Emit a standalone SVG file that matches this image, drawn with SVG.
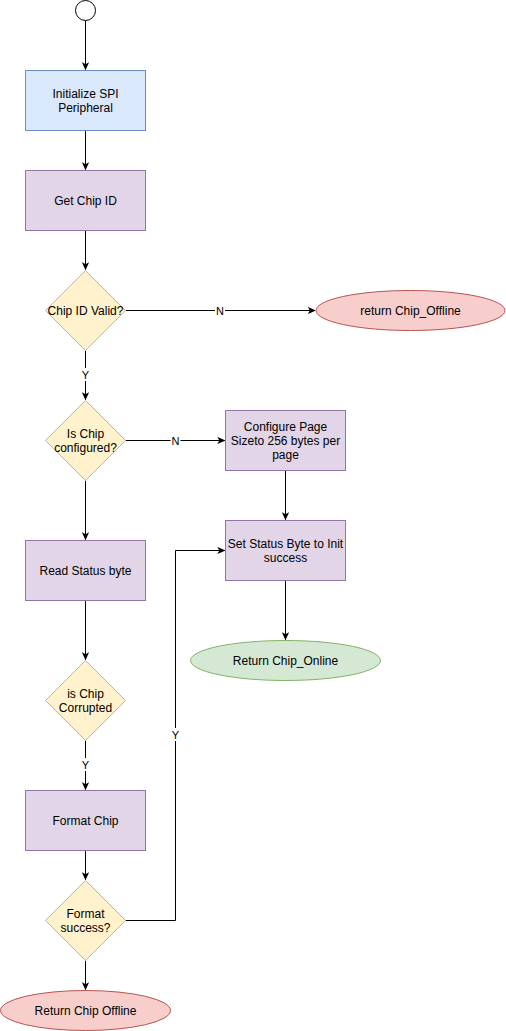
<svg xmlns="http://www.w3.org/2000/svg" width="506" height="1031" viewBox="0 0 506 1031">
<defs>
<marker id="arr" viewBox="0 0 10 10" refX="9" refY="5" markerWidth="8" markerHeight="8" markerUnits="userSpaceOnUse" orient="auto">
<path d="M0,0.5 L10,5 L0,9.5 L2.5,5 Z" fill="#000"/>
</marker>
<style>
text{font-family:"Liberation Sans",Arial,sans-serif;font-size:12px;fill:#000;text-anchor:middle}
.lbl{font-size:11px}
.edge{fill:none;stroke:#000;stroke-width:1;marker-end:url(#arr)}
.blue{fill:#dae8fc;stroke:#6c8ebf}
.purple{fill:#e1d5e7;stroke:#9673a6}
.yellow{fill:#fff2cc;stroke:#d6b656}
.red{fill:#f8cecc;stroke:#b85450}
.green{fill:#d5e8d4;stroke:#82b366}
.lblbg{fill:#fff}
</style>
</defs>
<rect width="506" height="1031" fill="#fff"/>
<g id="connectors">
<path class="edge" d="M85.5,20.5 V69.5"/>
<path class="edge" d="M85.5,130.5 V169.5"/>
<path class="edge" d="M85.5,230.5 V269.5"/>
<path class="edge" d="M125.5,310.5 H315"/>
<path class="edge" d="M85.5,350.5 V399.5"/>
<path class="edge" d="M125.5,440.5 H224.5"/>
<path class="edge" d="M285.5,470.5 V519.5"/>
<path class="edge" d="M85.5,480.5 V539.5"/>
<path class="edge" d="M285.5,580.5 V639.5"/>
<path class="edge" d="M85.5,600.5 V659.5"/>
<path class="edge" d="M85.5,740.5 V789.5"/>
<path class="edge" d="M85.5,850.5 V879.5"/>
<path class="edge" d="M125.5,920.5 H175.5 V550.5 H224.5"/>
<path class="edge" d="M85.5,960.5 V989.5"/>
<rect class="lblbg" x="215" y="304" width="10" height="13"/>
<text class="lbl" x="220" y="314.5">N</text>
<rect class="lblbg" x="80" y="368" width="11" height="13"/>
<text class="lbl" x="85.5" y="378.5">Y</text>
<rect class="lblbg" x="170.5" y="434" width="10" height="13"/>
<text class="lbl" x="175.5" y="444.5">N</text>
<rect class="lblbg" x="80" y="758" width="11" height="13"/>
<text class="lbl" x="85.5" y="768.5">Y</text>
<rect class="lblbg" x="170" y="728" width="11" height="13"/>
<text class="lbl" x="175.5" y="738.5">Y</text>
</g>
<g id="start"><circle cx="85.5" cy="10.5" r="10" fill="#fff" stroke="#000"/></g>
<g id="init-spi"><rect class="blue" x="25.5" y="70.5" width="120" height="60"/><text x="85.5" y="98">Initialize SPI</text><text x="85.5" y="112">Peripheral</text></g>
<g id="get-chip-id"><rect class="purple" x="25.5" y="170.5" width="120" height="60"/><text x="85.5" y="205">Get Chip ID</text></g>
<g id="chip-id-valid"><path class="yellow" d="M85.5,270.5 L125.5,310.5 L85.5,350.5 L45.5,310.5 Z"/><text x="85.5" y="315">Chip ID Valid?</text></g>
<g id="return-chip-offline-1"><ellipse class="red" cx="410.5" cy="310.5" rx="94.5" ry="20"/><text x="410.5" y="315">return Chip_Offline</text></g>
<g id="is-chip-configured"><path class="yellow" d="M85.5,400.5 L125.5,440.5 L85.5,480.5 L45.5,440.5 Z"/><text x="85.5" y="438">Is Chip</text><text x="85.5" y="452">configured?</text></g>
<g id="configure-page"><rect class="purple" x="225.5" y="410.5" width="120" height="60"/><text x="285.5" y="431">Configure Page</text><text x="285.5" y="445">Sizeto 256 bytes per</text><text x="285.5" y="459">page</text></g>
<g id="set-status"><rect class="purple" x="225.5" y="520.5" width="120" height="60"/><text x="285.5" y="548">Set Status Byte to Init</text><text x="285.5" y="562">success</text></g>
<g id="return-chip-online"><ellipse class="green" cx="285.5" cy="660.5" rx="95" ry="20"/><text x="285.5" y="665">Return Chip_Online</text></g>
<g id="read-status"><rect class="purple" x="25.5" y="540.5" width="120" height="60"/><text x="85.5" y="575">Read Status byte</text></g>
<g id="is-chip-corrupted"><path class="yellow" d="M85.5,660.5 L125.5,700.5 L85.5,740.5 L45.5,700.5 Z"/><text x="85.5" y="698">is Chip</text><text x="85.5" y="712">Corrupted</text></g>
<g id="format-chip"><rect class="purple" x="25.5" y="790.5" width="120" height="60"/><text x="85.5" y="825">Format Chip</text></g>
<g id="format-success"><path class="yellow" d="M85.5,880.5 L125.5,920.5 L85.5,960.5 L45.5,920.5 Z"/><text x="85.5" y="918">Format</text><text x="85.5" y="932">success?</text></g>
<g id="return-chip-offline-2"><ellipse class="red" cx="85.5" cy="1010.5" rx="85" ry="20"/><text x="85.5" y="1015">Return Chip Offline</text></g>
</svg>
